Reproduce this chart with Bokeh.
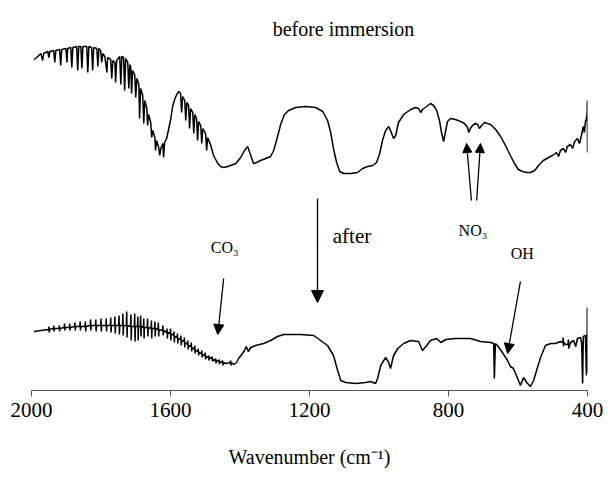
from bokeh.plotting import figure
from bokeh.models import Range1d, Label, Arrow, NormalHead, FixedTicker
from bokeh.embed import file_html
from bokeh.resources import INLINE

# ---- data: wavenumber (cm-1) and transmittance (arbitrary units, offset spectra) ----
before_wn = [1993, 1985, 1973, 1968, 1965, 1953, 1950, 1947, 1936, 1933, 1930, 1919, 1916, 1913,
             1901, 1898, 1896, 1887, 1884, 1881, 1870, 1867, 1864, 1858, 1855, 1852, 1841, 1838,
             1835, 1827, 1824, 1821, 1812, 1809, 1806, 1801, 1798, 1795, 1789, 1783, 1781, 1772,
             1769, 1766, 1760, 1758, 1755, 1746, 1743, 1740, 1735, 1732, 1729, 1723, 1720, 1717,
             1714, 1712, 1709, 1703, 1700, 1697, 1691, 1689, 1686, 1680, 1677, 1674, 1668, 1666,
             1663, 1657, 1654, 1651, 1645, 1643, 1640, 1634, 1631, 1628, 1622, 1620, 1617, 1611,
             1605, 1599, 1594, 1588, 1582, 1576, 1571, 1568, 1565, 1559, 1556, 1553, 1548, 1545,
             1542, 1536, 1533, 1530, 1525, 1522, 1519, 1513, 1510, 1507, 1499, 1496, 1493, 1484,
             1476, 1464, 1456, 1447, 1435, 1427, 1412, 1398, 1387, 1378, 1369, 1361, 1352, 1341,
             1326, 1312, 1303, 1295, 1283, 1272, 1260, 1240, 1211, 1182, 1162, 1148, 1139, 1131,
             1122, 1113, 1102, 1082, 1062, 1047, 1033, 1018, 1007, 998, 990, 981, 972, 967, 958,
             952, 944, 929, 909, 895, 886, 880, 875, 863, 852, 843, 834, 826, 820, 814, 808, 803,
             794, 780, 765, 754, 745, 742, 737, 731, 722, 716, 711, 705, 696, 688, 679, 670, 662,
             650, 636, 622, 610, 599, 587, 575, 564, 552, 541, 527, 512, 501, 489, 483, 478, 469,
             463, 458, 449, 443, 437, 429, 423, 417, 412, 409, 406, 403, 401, 400.5, 400]
before_t = [331, 333, 337, 330, 337, 339, 333, 339, 340, 328, 340, 341, 325, 341,
            342, 328, 342, 343, 323, 343, 344, 320, 344, 344, 322, 344, 344, 318,
            344, 343, 320, 343, 342, 324, 342, 340, 328, 337, 334, 318, 333, 331,
            312, 330, 328, 308, 330, 334, 306, 334, 333, 300, 332, 328, 302, 326,
            322, 297, 320, 316, 293, 312, 306, 272, 302, 295, 267, 290, 282, 265,
            276, 268, 253, 260, 253, 240, 250, 243, 235, 242, 247, 233, 248, 252,
            262, 272, 284, 291, 296, 299, 297, 278, 294, 290, 270, 288, 285, 262,
            282, 278, 257, 276, 272, 250, 269, 265, 247, 262, 257, 240, 253, 245,
            235, 227, 224, 223, 224, 225, 227, 233, 240, 244, 235, 227, 228, 230,
            232, 234, 240, 250, 266, 276, 280, 283, 284, 283, 279, 270, 258, 242,
            228, 219, 217, 217, 218, 222, 224, 225, 228, 237, 250, 260, 264, 260, 252,
            255, 268, 276, 281, 283, 282, 278, 281, 284, 287, 285, 280, 270, 258, 249, 260, 269,
            272, 271, 269, 267, 263, 258, 262, 265, 267, 266, 262, 265, 268, 267, 266, 263, 260,
            254, 245, 235, 227, 221, 219, 218, 218, 220, 225, 230, 233, 235, 238, 234, 240, 242,
            238, 244, 246, 242, 249, 252, 247, 256, 264, 258, 269, 272, 278, 290, 238]

after_wn = [1993, 1973,
            1951, 1950, 1949, 1948, 1937, 1936, 1935, 1934, 1921, 1920, 1919, 1918,
            1906, 1905, 1904, 1903, 1891, 1890, 1889, 1888, 1876, 1875, 1874, 1873,
            1861, 1860, 1859, 1858, 1846, 1845, 1844, 1843, 1831, 1830, 1829, 1828,
            1816, 1815, 1814, 1813, 1801, 1800, 1799, 1798, 1786, 1785, 1784, 1783,
            1773, 1772, 1771, 1770, 1761, 1760, 1759, 1758, 1749, 1748, 1747, 1746,
            1738, 1737, 1736, 1735, 1727, 1726, 1725, 1724, 1715, 1714, 1713, 1712,
            1704, 1703, 1702, 1701, 1695, 1694, 1693, 1692, 1687, 1686, 1685, 1684,
            1678, 1677, 1676, 1675, 1667, 1666, 1665, 1664, 1656, 1655, 1654, 1653,
            1646, 1645, 1644, 1643, 1636, 1635, 1634, 1633, 1623, 1622, 1621, 1620,
            1611, 1610, 1609, 1608, 1601, 1600, 1599, 1598, 1591, 1590, 1589, 1588,
            1581, 1580, 1579, 1578, 1571, 1570, 1569, 1568, 1561, 1560, 1559, 1558,
            1551, 1550, 1549, 1548, 1541, 1540, 1539, 1538, 1531, 1530, 1529, 1528,
            1521, 1520, 1519, 1518, 1511, 1510, 1509, 1508, 1501, 1500, 1499, 1498,
            1491, 1490, 1489, 1488, 1481, 1480, 1479, 1478, 1471, 1470, 1469, 1468,
            1461, 1460, 1459, 1458, 1451, 1450, 1449, 1448, 1441,
            1428, 1427, 1426, 1425, 1418, 1410, 1404, 1395, 1387, 1382, 1376, 1369,
            1355, 1332, 1312, 1292, 1274, 1226, 1188, 1168, 1148, 1131, 1119, 1110,
            1096, 1067, 1039, 1024, 1010, 1004, 995, 981, 972, 967, 958, 946, 929,
            909, 886, 875, 865, 852, 834, 822, 808, 780, 737, 708, 679, 670, 668,
            665, 659, 645, 630, 622, 613, 601, 593, 584, 575, 564, 555, 544, 535,
            521, 506, 492, 478, 471, 470, 469, 468, 463, 456, 455, 454, 449, 440,
            434, 429, 420, 417, 414, 412, 406, 403, 402, 401, 400.5, 400]
after_t = [59, 60,
           61, 64, 58, 61, 62, 65, 59, 62, 62, 65, 59, 62,
           63, 67, 60, 63, 63, 67, 60, 63, 64, 68, 60, 64,
           64, 69, 60, 64, 64, 69, 59, 64, 65, 71, 60, 65,
           65, 71, 59, 65, 65, 72, 59, 65, 65, 72, 59, 65,
           65, 73, 58, 65, 65, 74, 57, 65, 65, 75, 56, 65,
           65, 77, 55, 65, 65, 79, 53, 65, 64, 76, 50, 64,
           64, 77, 49, 64, 64, 74, 50, 64, 64, 75, 54, 64,
           63, 72, 52, 63, 63, 72, 54, 63, 62, 70, 52, 62,
           62, 69, 54, 62, 61, 68, 54, 61, 60, 65, 55, 60,
           58, 62, 52, 58, 57, 62, 50, 57, 55, 59, 48, 54,
           53, 57, 47, 52, 51, 55, 45, 50, 49, 53, 43, 48,
           46, 50, 41, 45, 44, 48, 39, 43, 41, 45, 37, 40,
           39, 42, 35, 38, 37, 40, 33, 36, 35, 38, 31, 34,
           33, 35, 30, 33, 32, 34, 29, 31, 30, 32, 27, 30,
           29, 31, 26, 29, 28, 30, 25, 28, 27,
           28, 30, 25, 28, 26, 28, 32, 36, 40, 44, 39, 43,
           45, 47, 50, 54, 56, 56, 55, 50, 45, 35, 20, 10,
           8, 7, 8, 9, 7, 12, 25, 33, 28, 22, 35, 42, 47,
           50, 49, 40, 44, 50, 52, 48, 51, 52, 52, 49, 48, 47, 12,
           47, 45, 38, 30, 24, 22, 12, 5, 13, 8, 4, 10, 23, 33,
           45, 47, 47, 49, 48, 53, 44, 48, 46, 46, 51, 42, 48, 50,
           44, 52, 53, 48, 7, 54, 55, 15, 56, 52, 83, 18]

x_ticks = [2000, 1600, 1200, 800, 400]

SERIF = "Liberation Serif"

p = figure(width=608, height=484, output_backend="svg", toolbar_location=None,
           x_range=Range1d(2000, 400), y_range=Range1d(0, 390),
           y_axis_location=None, min_border_left=31, min_border_right=21,
           min_border_top=0, min_border_bottom=94)
p.outline_line_color = None
p.xgrid.visible = False
p.ygrid.visible = False
p.background_fill_color = "white"
p.border_fill_color = "white"

p.line(before_wn, before_t, line_color="black", line_width=1.5)
p.line(after_wn, after_t, line_color="black", line_width=1.5)

ax = p.xaxis[0]
ax.ticker = FixedTicker(ticks=x_ticks)
ax.axis_line_color = "#555555"
ax.axis_line_width = 1.2
ax.major_tick_line_color = "#555555"
ax.major_tick_out = 6
ax.major_tick_in = 0
ax.minor_tick_line_color = None
ax.major_label_text_font = SERIF
ax.major_label_text_font_size = "21px"
ax.major_label_text_color = "black"
ax.major_label_standoff = 6
ax.axis_label = "Wavenumber (cm\u207b\u00b9)"
ax.axis_label_text_font = SERIF
ax.axis_label_text_font_size = "20px"
ax.axis_label_text_font_style = "normal"
ax.axis_label_text_color = "black"
ax.axis_label_standoff = 26

def add_label(x, y, text, size):
    p.add_layout(Label(x=x, y=y, text=text, text_font=SERIF, text_font_size=size,
                       text_color="black", text_align="left", text_baseline="alphabetic"))

add_label(1306, 362, "before immersion", "20px")
add_label(1133, 155, "after", "21px")
add_label(1484, 143, "CO\u2083", "16px")
add_label(771, 160, "NO\u2083", "16px")
add_label(621, 137, "OH", "16px")

def add_arrow(x0, y0, x1, y1, size):
    p.add_layout(Arrow(end=NormalHead(size=size, fill_color="black", line_color="black", line_width=1),
                       x_start=x0, y_start=y0, x_end=x1, y_end=y1,
                       line_color="black", line_width=1.3))

add_arrow(1177, 192, 1177, 88, 12)
add_arrow(1447, 112, 1464, 56, 10)
add_arrow(593, 109, 630, 37, 10)
add_arrow(734, 190, 748, 247, 9)
add_arrow(719, 190, 708, 247, 9)

open("out.html", "w").write(file_html(p, INLINE))
